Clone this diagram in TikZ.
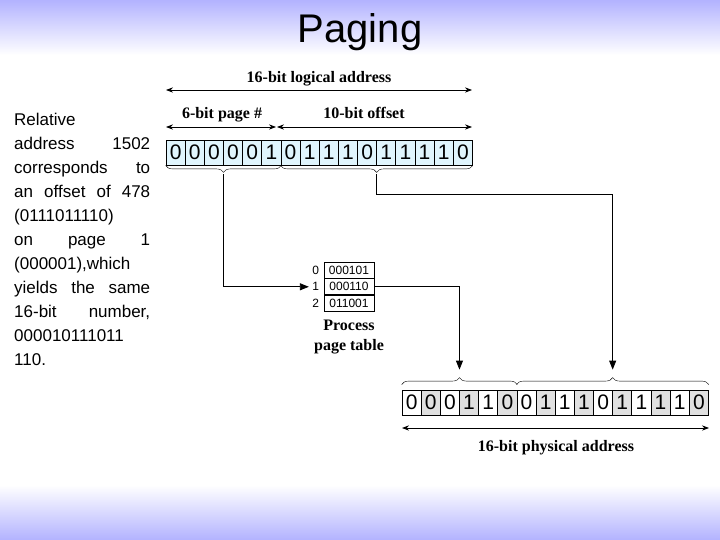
\documentclass[tikz,border=0pt]{standalone}
\usepackage{fontspec}
\setmainfont{Liberation Serif}
\newfontfamily\arialfont{Liberation Sans}
\usetikzlibrary{arrows.meta, decorations.pathreplacing, calc, positioning}
\newcommand{\jline}[1]{\hbox to 136pt{#1}}
\tikzset{
  bit/.style={draw, thick, minimum width=19.15pt, minimum height=25pt, inner sep=0pt,
    font=\arialfont\fontsize{21}{21}\selectfont},
  row/.style={draw, thick, minimum width=50pt, minimum height=16pt, inner sep=0pt,
    font=\arialfont\fontsize{12}{12}\selectfont},
  lbl/.style={font=\bfseries\fontsize{16}{16}\selectfont, anchor=base},
  span/.style={thick, {Stealth[length=7pt]}-{Stealth[length=7pt]}},
  brc/.style={decorate, decoration={brace, mirror, amplitude=7pt}},
  link/.style={thick, -{Triangle[length=9pt,width=7pt]}}
}
\begin{document}
\begin{tikzpicture}[x=1pt, y=-1pt]
    \useasboundingbox (0,0) rectangle (720,540);
    % slide background
    \fill[white] (0,0) rectangle (720,540);
    \shade[top color=blue!30, bottom color=white] (0,0) rectangle (720,55);
    \shade[top color=white, bottom color=blue!30] (0,485) rectangle (720,540);
    \node[font=\arialfont\fontsize{40}{40}\selectfont] (title) at (360,32) {Paging};

    % explanation
    \node[font=\arialfont\fontsize{17}{24}\selectfont, align=left, anchor=north west, inner sep=0pt] (note) at (14,113) {%
      \jline{Relative\hfill}\\ \jline{address\hfill 1502}\\ \jline{corresponds\hfill to}\\
      \jline{an offset of 478}\\ \jline{(0111011110)\hfill}\\ \jline{on\hfill page\hfill 1}\\
      \jline{(000001),which}\\ \jline{yields the same}\\ \jline{16-bit\hfill number,}\\
      \jline{000010111011\hfill}\\ \jline{110.\hfill}};

    % logical address bits
    \foreach \b [count=\i from 0] in {0,0,0,0,0,1,0,1,1,1,0,1,1,1,1,0} {
      \node[bit, fill=cyan!12] (L\i) at ({175.6+19.15*\i},152.5) {\b};
    }
    \draw[span] (166,90) -- (472,90);
    \node[lbl] (lla) at (319,83) {16-bit logical address};
    \draw[span] (166,127) -- (276,127);
    \node[lbl] (pgn) at (222,119) {6-bit page \#};
    \draw[span] (277,127) -- (472,127);
    \node[lbl] (ofs) at (364,119) {10-bit offset};
    \draw[brc] (L0.south west) -- (L5.south east) coordinate[midway, yshift=-9pt] (pg);
    \draw[brc] (L6.south west) -- (L15.south east) coordinate[midway, yshift=-9pt] (off);

    % page table
    \node[row] (r0) at (349,270) {000101};
    \node[row, below=0pt of r0] (r1) {000110};
    \node[row, below=0pt of r1] (r2) {011001};
    \foreach \k in {0,1,2} {
      \node[font=\arialfont\fontsize{12}{12}\selectfont, left=1pt of r\k] (i\k) {\k};
    }
    \node[font=\bfseries\fontsize{16}{16}\selectfont, align=center, below=4pt of r2] (ptab) {Process\\[4pt]page table};

    % physical address bits
    \foreach \b [count=\i from 0] in {0,0,0,1,1,0,0,1,1,1,0,1,1,1,1,0} {
      \pgfmathsetmacro{\shd}{mod(\i,2)==0 ? 0 : 12}
      \node[bit, fill=black!\shd] (P\i) at ({411.6+19.15*\i},402.5) {\b};
    }
    \draw[brc] ($(P5.north east)+(0,-5)$) -- ($(P0.north west)+(0,-5)$) coordinate[midway, yshift=9pt] (ppg);
    \draw[brc] ($(P15.north east)+(0,-5)$) -- ($(P6.north west)+(0,-5)$) coordinate[midway, yshift=9pt] (poff);
    \draw[span] (402,428) -- (709,428);
    \node[lbl] (pha) at (556,451) {16-bit physical address};

    % connectors
    \draw[link] (pg) |- (i1.west);
    \draw[link] (r1.east) -| ($(ppg)+(0,-6)$);
    \draw[link] (off) -- ++(0,20) -| ($(poff)+(0,-6)$);
\end{tikzpicture}
\end{document}
